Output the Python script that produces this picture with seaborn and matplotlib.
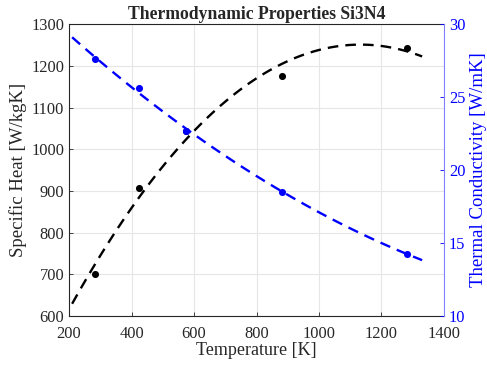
import matplotlib as mpl
mpl.use('Agg')
import matplotlib.pyplot as plt
import seaborn as sns
import pandas as pd

temperature = [283, 423, 573, 883, 1283]
specific_heat = [700, 908, 1043, 1175, 1243]
conductivity = [27.6, 25.6, 22.7, 18.5, 14.25]

df = pd.DataFrame({"T": temperature, "cp": specific_heat, "k": conductivity})

sns.set_style("white")
plt.rcParams['font.family'] = ['Liberation Serif', 'DejaVu Serif']

fig = plt.figure(figsize=(4.87, 3.65), dpi=100)
ax = fig.add_axes([0.1417, 0.134, 0.77, 0.80])
ax2 = ax.twinx()

# fitted curves span a bit less than the axis range
ax.set_xlim(210, 1330)
dash = (0, (4.5, 3))
sns.regplot(data=df, x="T", y="cp", order=2, ci=None, truncate=False, ax=ax,
            color="black", scatter_kws={"s": 26, "linewidths": 0, "alpha": 1},
            line_kws={"linestyle": dash, "linewidth": 1.7})
sns.regplot(data=df, x="T", y="k", order=2, ci=None, truncate=False, ax=ax2,
            color="blue", scatter_kws={"s": 26, "linewidths": 0, "alpha": 1},
            line_kws={"linestyle": dash, "linewidth": 1.7})

ax.set_xlim(200, 1400)
ax.set_ylim(600, 1300)
ax2.set_ylim(10, 30)
ax.set_xticks(range(200, 1401, 200))
ax.set_yticks(range(600, 1301, 100))
ax2.set_yticks(range(10, 31, 5))

ax.grid(True, color="#e6e6e6", linewidth=0.8)
ax.set_axisbelow(True)

ax.set_xlabel("Temperature [K]", fontsize=13, color="#262626", labelpad=0)
ax.set_ylabel("Specific Heat [W/kgK]", fontsize=13.5, color="#262626", labelpad=3)
ax2.set_ylabel("Thermal Conductivity [W/mK]", fontsize=13.5, color="blue", labelpad=3)
ax.set_title("Thermodynamic Properties Si3N4", fontsize=12.7, fontweight="bold", pad=4)

ax.tick_params(axis="both", labelsize=11.8, colors="#262626", direction="in", length=3, width=0.6)
ax.tick_params(axis="x", pad=7)
ax.tick_params(axis="y", left=True, right=False)
ax.tick_params(axis="x", bottom=True, top=False)
ax2.tick_params(axis="y", labelsize=11.8, colors="blue", direction="in", length=3, width=0.6, right=True)

for name in ["left", "bottom", "top"]:
    ax.spines[name].set_color("#262626")
    ax.spines[name].set_linewidth(0.8)
ax.spines["right"].set_visible(False)
for name in ["left", "top", "bottom"]:
    ax2.spines[name].set_visible(False)
ax2.spines["right"].set_color("#8080ff")
ax2.spines["right"].set_linewidth(0.8)

fig.savefig("out.png", dpi=100)
